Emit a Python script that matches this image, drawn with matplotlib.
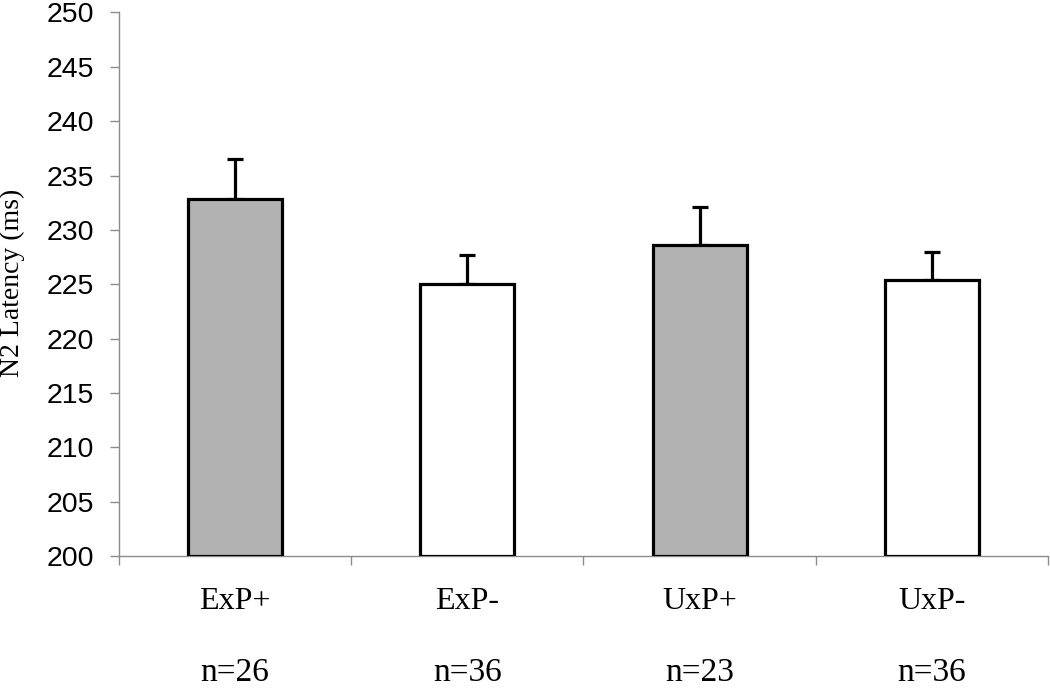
import matplotlib
matplotlib.use("Agg")
import matplotlib.pyplot as plt
from matplotlib.transforms import blended_transform_factory

categories = ["ExP+", "ExP-", "UxP+", "UxP-"]
n_labels = ["n=26", "n=36", "n=23", "n=36"]
means = [232.8, 225.0, 228.6, 225.4]
errors = [3.7, 2.7, 3.5, 2.6]
colors = ["#b2b2b2", "#ffffff", "#b2b2b2", "#ffffff"]
yticks = [200, 205, 210, 215, 220, 225, 230, 235, 240, 245, 250]

fig = plt.figure(figsize=(10.5, 6.94), dpi=100)
ax = fig.add_axes([0.1133, 0.1988, 0.8847, 0.7832])

x = list(range(len(categories)))
base = 200
ax.bar(x, [m - base for m in means], bottom=base, width=0.405,
       color=colors, edgecolor="black", linewidth=2.3, zorder=3)
ax.errorbar(x, means, yerr=[[0]*len(errors), errors], fmt="none",
            ecolor="black", elinewidth=2.3, capsize=5.5, capthick=2.3, zorder=2)

ax.set_xlim(-0.5, len(categories) - 0.5)
ax.set_ylim(200, 250)
ax.set_yticks(yticks)
ax.set_yticklabels([str(t) for t in yticks], fontsize=20.5, family="Liberation Sans")

for s in ["top", "right"]:
    ax.spines[s].set_visible(False)
for s in ["left", "bottom"]:
    ax.spines[s].set_color("#8c8c8c")
    ax.spines[s].set_linewidth(1.0)
ax.tick_params(axis="y", direction="out", length=6.5, width=1.0, color="#8c8c8c", pad=11.5)

ax.set_xticks([i - 0.5 for i in range(len(categories) + 1)], minor=True)
ax.set_xticks(x)
ax.set_xticklabels([])
ax.tick_params(axis="x", which="major", length=0)
ax.tick_params(axis="x", which="minor", direction="out", length=6.5, width=1.0, color="#8c8c8c")

trans = blended_transform_factory(ax.transData, ax.transAxes)
for i, (c, n) in enumerate(zip(categories, n_labels)):
    ax.annotate(c, xy=(i, 0), xycoords=trans, xytext=(0, -45), textcoords="offset pixels",
                ha="center", va="center", fontsize=23, family="Liberation Serif")
    ax.annotate(n, xy=(i, 0), xycoords=trans, xytext=(0, -117), textcoords="offset pixels",
                ha="center", va="center", fontsize=24, family="Liberation Serif")

fig.text(0.012, 0.592, "N2 Latency (ms)", rotation=90, ha="center", va="center",
         fontsize=20, family="Liberation Serif")

fig.savefig("out.png", dpi=100)
